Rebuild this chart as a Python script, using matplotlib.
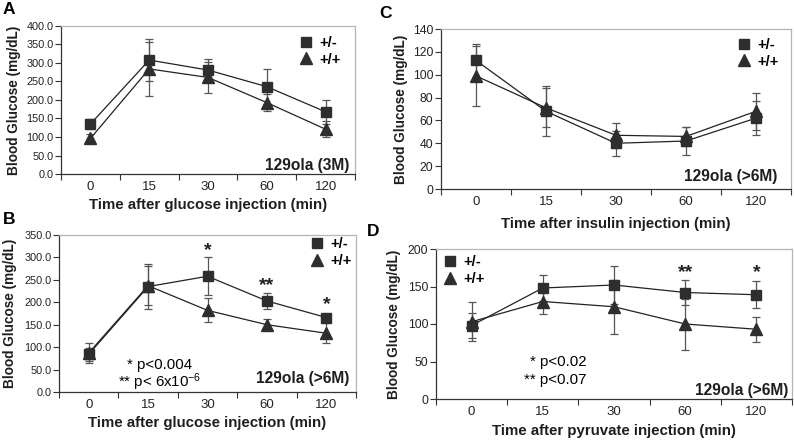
"""Four-panel glucose / insulin / pyruvate tolerance figure, 129ola +/- vs +/+."""

import matplotlib
matplotlib.use('Agg')
import matplotlib.pyplot as plt
from matplotlib.lines import Line2D
from matplotlib import font_manager

FAMILY = 'Liberation Sans'
_names = {f.name for f in font_manager.fontManager.ttflist}
TICK_FAMILY = 'Liberation Sans Narrow' if 'Liberation Sans Narrow' in _names else FAMILY

plt.rcParams['font.family'] = [FAMILY, 'DejaVu Sans']
plt.rcParams['mathtext.fontset'] = 'custom'
plt.rcParams['mathtext.rm'] = FAMILY
plt.rcParams['mathtext.default'] = 'regular'

TIMES = ['0', '15', '30', '60', '120']
SERIES = ['+/-', '+/+']

# A: glucose tolerance, 3 months
A_HET = [135, 308, 281, 236, 168]
A_HET_ERR = [13, 56, 29, 47, 32]
A_WT = [96, 284, 261, 193, 121]
A_WT_ERR = [13, 72, 43, 22, 22]

# B: glucose tolerance, >6 months
B_HET = [84, 235, 258, 203, 166]
B_HET_ERR = [14, 50, 42, 17, 8]
B_WT = [87, 237, 182, 150, 131]
B_WT_ERR = [22, 43, 27, 12, 22]
B_STARS = [(2, 316, '*'), (3, 237, '**'), (4, 195, '*')]

# C: insulin tolerance, >6 months
C_HET = [112.5, 68, 40, 42, 62]
C_HET_ERR = [14.5, 22, 11, 12, 15]
C_WT = [99, 71, 47, 46, 68]
C_WT_ERR = [26, 17, 11, 8, 16]

# D: pyruvate tolerance, >6 months
D_HET = [98, 148, 152, 142, 139]
D_HET_ERR = [17, 17, 25, 17, 18]
D_WT = [103, 130, 123, 100, 93]
D_WT_ERR = [26, 17, 36, 34, 17]
D_STARS = [(3, 168, '**'), (4, 168, '*')]

W, H = 794, 441
MARK = '#2e2e2e'
ERRC = '#555555'


def px_axes(fig, left, top, right, bottom):
	return fig.add_axes([left / W, 1 - bottom / H, (right - left) / W, (bottom - top) / H])


def draw_panel(ax, het, het_err, wt, wt_err, ymax, ystep, fmt, ytick_size,
		xlabel, box, ylab_x, xlab_y):
	x = range(len(TIMES))
	for y, e, m, ms in ((het, het_err, 's', 7.5), (wt, wt_err, '^', 8.5)):
		ax.errorbar(x, y, yerr=e, color='#222222', lw=0.9, marker=m, ms=ms,
			mfc=MARK, mec=MARK, ecolor=ERRC, elinewidth=0.9, capsize=3,
			capthick=0.9, zorder=3)
	ax.set_xlim(-0.5, len(TIMES) - 0.5)
	ax.set_ylim(0, ymax)
	ax.set_xticks(list(x))
	ax.set_xticklabels(TIMES, family=TICK_FAMILY, fontsize=9.5, color='#222222')
	ax.set_xticks([i - 0.5 for i in range(len(TIMES) + 1)], minor=True)
	ax.tick_params(axis='x', which='major', length=0, pad=5)
	ax.tick_params(axis='x', which='minor', length=4, width=0.8, color='#333333')
	ticks = [i * ystep for i in range(int(round(ymax / ystep)) + 1)]
	ax.set_yticks(ticks)
	ax.set_yticklabels([fmt.format(t) for t in ticks], family=TICK_FAMILY,
		fontsize=ytick_size, color='#222222')
	ax.tick_params(axis='y', length=4, width=0.8, color='#333333', pad=1.5)
	for s in ('left', 'bottom'):
		ax.spines[s].set_color('#333333')
		ax.spines[s].set_linewidth(0.9)
	for s in ('top', 'right'):
		ax.spines[s].set_color('#b5b5b5')
		ax.spines[s].set_linewidth(0.9)
	ax.set_xlabel(xlabel, fontsize=10.8, fontweight='bold', color='#1e1e1e')
	ax.set_ylabel('Blood Glucose (mg/dL)', fontsize=9.8, fontweight='bold',
		color='#1e1e1e')
	ax.yaxis.set_label_coords(ylab_x, 0.5)
	ax.xaxis.set_label_coords(0.5, xlab_y)
	ax.text(box[0], box[1], box[2], transform=ax.transAxes, ha='right',
		va='center', fontsize=11.2, fontweight='bold', color='#1e1e1e')


def add_legend(ax, anchor):
	handles = [Line2D([], [], ls='none', marker='s', ms=7.5, mfc=MARK, mec=MARK),
		Line2D([], [], ls='none', marker='^', ms=8.5, mfc=MARK, mec=MARK)]
	ax.legend(handles, SERIES, loc='upper left', bbox_to_anchor=anchor,
		frameon=False, borderpad=0, borderaxespad=0, handlelength=1.0,
		handletextpad=0.4, labelspacing=0.2,
		prop={'family': FAMILY, 'weight': 'bold', 'size': 10.5})


fig = plt.figure(figsize=(W / 100, H / 100), dpi=100)

axA = px_axes(fig, 61, 26, 355, 174)
draw_panel(axA, A_HET, A_HET_ERR, A_WT, A_WT_ERR, 400, 50, '{:.1f}', 7.8,
	'Time after glucose injection (min)', (0.98, 0.06, '129ola (3M)'),
	-0.135, -0.16)
add_legend(axA, (0.81, 0.935))

axB = px_axes(fig, 59, 235, 356, 392)
draw_panel(axB, B_HET, B_HET_ERR, B_WT, B_WT_ERR, 350, 50, '{:.1f}', 7.8,
	'Time after glucose injection (min)', (0.977, 0.083, '129ola (>6M)'),
	-0.142, -0.155)
add_legend(axB, (0.845, 0.985))
for xi, yi, s in B_STARS:
	axB.text(xi, yi, s, ha='center', va='center', fontsize=14,
		fontweight='bold', color='#222222')
axB.text(0.34, 0.174, '* p<0.004', transform=axB.transAxes, ha='center',
	va='center', fontsize=10.8)
axB.text(0.34, 0.06, r'** p< 6x10$^{-6}$', transform=axB.transAxes,
	ha='center', va='center', fontsize=10.8)

axC = px_axes(fig, 441, 29, 791, 189)
draw_panel(axC, C_HET, C_HET_ERR, C_WT, C_WT_ERR, 140, 20, '{:.0f}', 8.8,
	'Time after insulin injection (min)', (0.961, 0.079, '129ola (>6M)'),
	-0.093, -0.175)
add_legend(axC, (0.845, 0.946))

axD = px_axes(fig, 436, 249, 792, 399)
draw_panel(axD, D_HET, D_HET_ERR, D_WT, D_WT_ERR, 200, 50, '{:.0f}', 8.8,
	'Time after pyruvate injection (min)', (0.989, 0.058, '129ola (>6M)'),
	-0.098, -0.17)
add_legend(axD, (0.02, 0.957))
for xi, yi, s in D_STARS:
	axD.text(xi, yi, s, ha='center', va='center', fontsize=14,
		fontweight='bold', color='#222222')
axD.text(0.424, 0.248, '* p<0.02', transform=axD.transAxes, ha='right',
	va='center', fontsize=10.8)
axD.text(0.424, 0.125, '** p<0.07', transform=axD.transAxes, ha='right',
	va='center', fontsize=10.8)

for lab, xp, yp in (('A', 9, 10), ('B', 9, 219), ('C', 386, 14), ('D', 373, 231)):
	fig.text(xp / W, 1 - yp / H, lab, ha='center', va='center', fontsize=12.5,
		fontweight='bold')

fig.savefig('out.png', dpi=100)
